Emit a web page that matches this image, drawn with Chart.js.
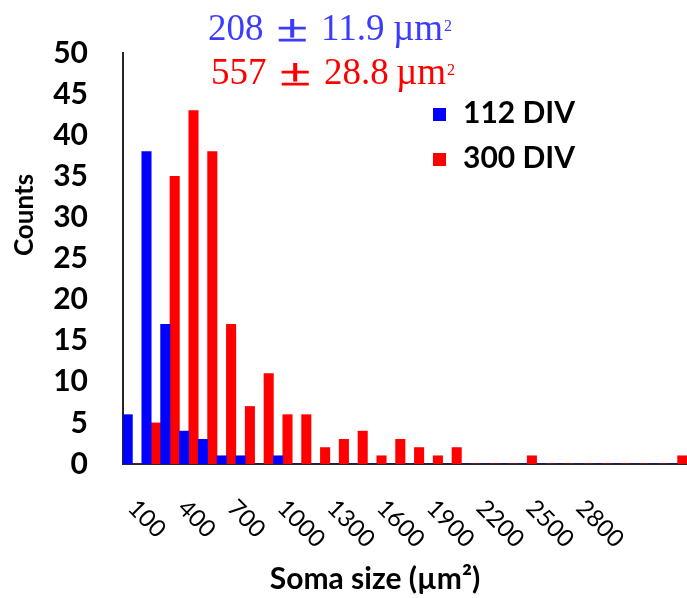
<!DOCTYPE html>
<html>
<head>
<meta charset="utf-8">
<title>Soma size distribution</title>
<script src="https://cdn.jsdelivr.net/npm/chart.js@4.4.1/dist/chart.umd.min.js"></script>
<style>
    html, body { margin: 0; padding: 0; background: #ffffff; }
    canvas { display: block; }
</style>
</head>
<body>
<canvas id="somaChart" width="687" height="598"></canvas>
<script>
// Soma size bins (µm²), one blue/red bar pair per bin
const sizeBins = ['100', '200', '300', '400', '500', '600', '700', '800', '900', '1000',
                  '1100', '1200', '1300', '1400', '1500', '1600', '1700', '1800', '1900', '2000',
                  '2100', '2200', '2300', '2400', '2500', '2600', '2700', '2800', '2900', '3000'];

// Cell counts per bin
const div112Counts = [6, 38, 17, 4, 3, 1, 1, 0, 1, 0,
                      0, 0, 0, 0, 0, 0, 0, 0, 0, 0,
                      0, 0, 0, 0, 0, 0, 0, 0, 0, 0];
const div300Counts = [0, 5, 35, 43, 38, 17, 7, 11, 6, 6,
                      2, 3, 4, 1, 3, 2, 1, 2, 0, 0,
                      0, 1, 0, 0, 0, 0, 0, 0, 0, 1];

// Slanted labels printed under the x axis
const sizeTickLabels = [100, 400, 700, 1000, 1300, 1600, 1900, 2200, 2500, 2800];

const seriesNames = ['112 DIV', '300 DIV'];
const meanValues = ['208', '557'];
const semValues = ['11.9', '28.8'];

document.addEventListener('DOMContentLoaded', function() {
    const colors = {
        blue:     '#0000ff',
        red:      '#ff0000',
        blueText: '#3c3cff',
        redText:  '#ff0000',
        axis:     '#262626',
        text:     '#000000'
    };

    // ── Extra text: slanted ticks, axis titles, legend, mean ± SEM ──────────
    const overlayText = {
        id: 'overlayText',
        afterDraw(chart) {
            const ctx = chart.ctx;
            const area = chart.chartArea;
            const tickScale = chart.scales.sizeTicks;

            ctx.save();
            ctx.fillStyle = colors.text;

            // tick labels, turned 45° clockwise
            ctx.font = '24px Lato';
            ctx.textAlign = 'left';
            ctx.textBaseline = 'middle';
            sizeTickLabels.forEach(function(v) {
                ctx.save();
                ctx.translate(tickScale.getPixelForValue(v), area.bottom + 40);
                ctx.rotate(Math.PI / 4);
                ctx.fillText(String(v), 0, 0);
                ctx.restore();
            });

            // axis titles
            ctx.font = 'bold 30px Lato';
            ctx.textAlign = 'center';
            ctx.textBaseline = 'alphabetic';
            ctx.fillText('Soma size (µm²)', 375, 589);

            ctx.save();
            ctx.font = 'bold 26px Lato';
            ctx.translate(33, 215);
            ctx.rotate(-Math.PI / 2);
            ctx.fillText('Counts', 0, 0);
            ctx.restore();

            // legend
            ctx.textAlign = 'left';
            ctx.font = 'bold 30px Lato';
            chart.data.datasets.forEach(function(ds, i) {
                const y = 108 + i * 45;
                ctx.fillStyle = ds.backgroundColor;
                ctx.fillRect(433, y, 13, 13);
                ctx.fillStyle = colors.text;
                ctx.fillText(ds.label, 463, y + 15);
            });

            // mean ± SEM for each series, set piece by piece
            const meanColors = [colors.blueText, colors.redText];
            const meanX = [208, 211];
            const meanY = [40, 84];
            meanValues.forEach(function(m, i) {
                const x0 = meanX[i];
                const y0 = meanY[i];
                ctx.fillStyle = meanColors[i];
                ctx.strokeStyle = meanColors[i];
                ctx.font = '37px "Liberation Serif"';
                ctx.fillText(m, x0, y0);
                ctx.fillText(semValues[i], x0 + 113, y0);
                ctx.fillText('µm', x0 + 185, y0);
                const unitEnd = x0 + 185 + ctx.measureText('µm').width;

                // the ± sign is set wider and heavier than the text face
                ctx.save();
                ctx.translate(x0 + 69, y0 + 1);
                ctx.scale(1.5, 1);
                ctx.lineWidth = 0.8;
                ctx.fillText('±', 0, 0);
                ctx.strokeText('±', 0, 0);
                ctx.restore();

                ctx.font = '16px "Liberation Serif"';
                ctx.fillText('2', unitEnd + 1, y0 - 9);
            });

            ctx.restore();
        }
    };

    // ── Histogram (grouped bars) ──────────────────────────────────────────────
    const ctxSoma = document.getElementById('somaChart');
    new Chart(ctxSoma, {
        type: 'bar',
        data: {
            labels: sizeBins,
            datasets: [{
                label: seriesNames[0],
                data: div112Counts,
                backgroundColor: colors.blue,
                borderWidth: 0,
                categoryPercentage: 1,
                barPercentage: 1
            }, {
                label: seriesNames[1],
                data: div300Counts,
                backgroundColor: colors.red,
                borderWidth: 0,
                categoryPercentage: 1,
                barPercentage: 1
            }]
        },
        options: {
            responsive: false,
            animation: false,
            layout: { padding: { top: 24, bottom: 134, left: 0, right: 0 } },
            plugins: {
                legend: { display: false },
                tooltip: { enabled: false }
            },
            scales: {
                x: {
                    grid: { display: false, drawTicks: false },
                    border: { display: true, color: colors.axis, width: 2 },
                    ticks: { display: false }
                },
                // value axis used only to place the slanted size labels
                sizeTicks: {
                    type: 'linear',
                    position: 'bottom',
                    offset: false,
                    bounds: 'data',
                    min: 46,
                    max: 3444,
                    grid: { display: false, drawTicks: false },
                    border: { display: false },
                    ticks: { display: false }
                },
                y: {
                    min: 0,
                    max: 50,
                    grid: { display: false, drawTicks: false },
                    border: { display: true, color: colors.axis, width: 2 },
                    ticks: {
                        stepSize: 5,
                        padding: 35,
                        color: colors.text,
                        font: { family: 'Lato', size: 30, weight: 'bold' }
                    },
                    afterFit: function(scale) { scale.width = 123; }
                }
            }
        },
        plugins: [overlayText]
    });
});
</script>
</body>
</html>
